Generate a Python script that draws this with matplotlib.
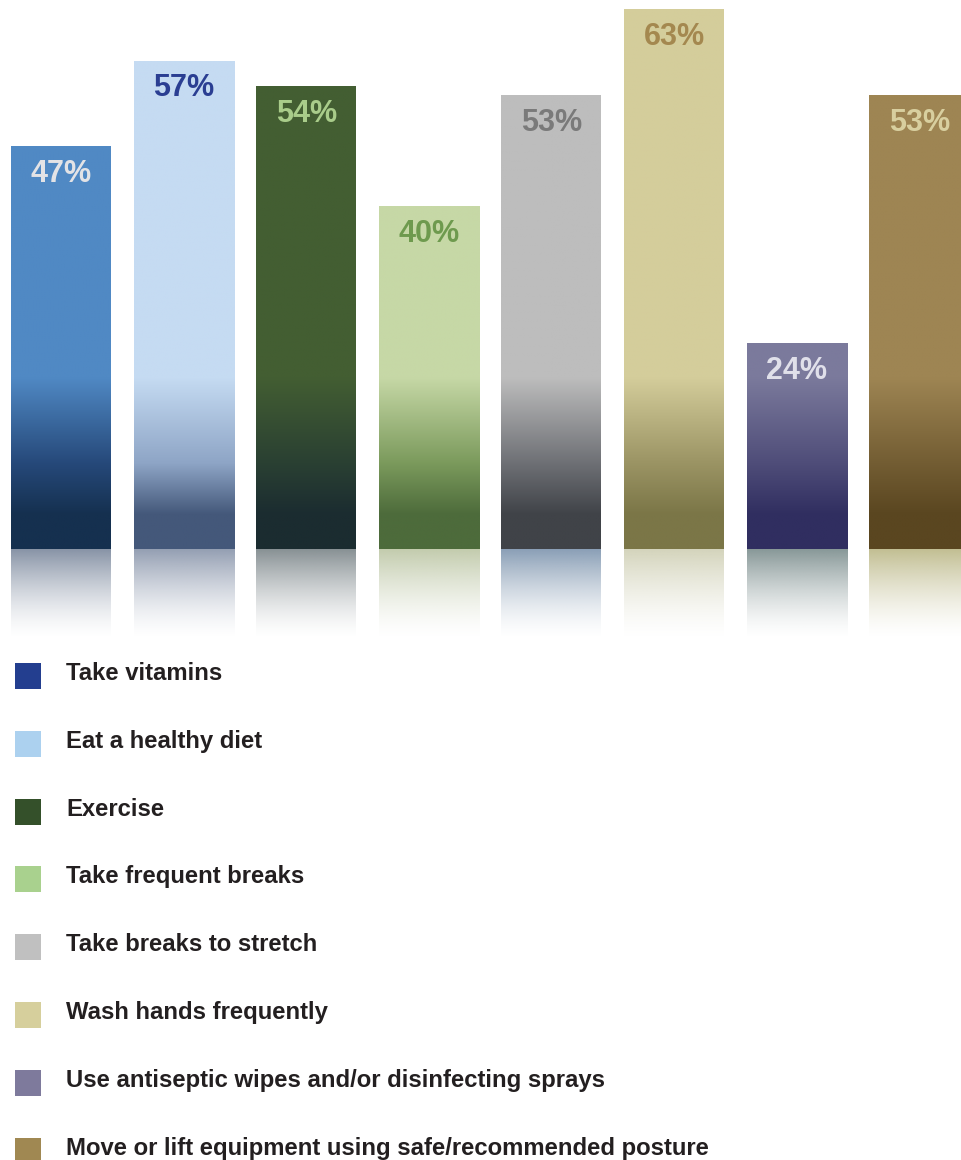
import numpy as np
import matplotlib
matplotlib.use("Agg")
import matplotlib.pyplot as plt
from matplotlib.colors import to_rgb
from matplotlib.patches import Rectangle

categories = ["Take vitamins", "Eat a healthy diet", "Exercise", "Take frequent breaks",
              "Take breaks to stretch", "Wash hands frequently",
              "Use antiseptic wipes and/or disinfecting sprays",
              "Move or lift equipment using safe/recommended posture"]
values = [47, 57, 54, 40, 53, 63, 24, 53]
labels = ["47%", "57%", "54%", "40%", "53%", "63%", "24%", "53%"]

top_colors = ["#5089c4", "#c5dbf2", "#435e32", "#c6d8a6", "#bdbdbd", "#d4cd9b", "#7b7a9c", "#9e8553"]
mid_colors = ["#26497a", "#8ea5c6", "#2a4033", "#7b9a5c", "#6e7075", "#9b9464", "#4f4d79", "#735d33"]
bot_colors = ["#15304f", "#44587a", "#1b2c30", "#4d6b3b", "#404348", "#7b7647", "#302e60", "#5a4620"]
refl_colors = ["#7a879c", "#8894aa", "#7a8488", "#bcc6a4", "#7d94ae", "#cfcfb4", "#7a8c8c", "#bbb786"]
label_colors = ["#e3e3e6", "#2a3e92", "#a9cc8a", "#6e9a4e", "#7a7a7a", "#a4884f", "#e0e0ea", "#d8cf9f"]
legend_colors = ["#233e8f", "#acd1ef", "#34502a", "#a9d18e", "#c0c0c0", "#d6cf9c", "#7e7a9c", "#a08852"]

W, H = 961, 1160
fig = plt.figure(figsize=(W / 100, H / 100), dpi=100)
fig.patch.set_facecolor("white")

# ---- bar axes ----
bar_h_px = 640
ax = fig.add_axes([0, (H - bar_h_px) / H, 1, bar_h_px / H])
ax.set_axis_off()
pitch = 122.6
px_per_unit = 8.56
x_left = -61 / pitch
x_right = (W - 61) / pitch
y_top = 549 / px_per_unit
y_bot = -(bar_h_px - 549) / px_per_unit
bw = 100 / pitch

stops_y = np.array([0.0, 4.0, 10.0, 20.0, 100.0])
refl_len = 10.5

for i, v in enumerate(values):
    c_t = np.array(to_rgb(top_colors[i]))
    c_m = np.array(to_rgb(mid_colors[i]))
    c_b = np.array(to_rgb(bot_colors[i]))
    cols = np.array([c_b, c_b, c_m, c_t, c_t])
    n = 400
    ys = np.linspace(v, 0, n)
    img = np.zeros((n, 1, 3))
    for k in range(3):
        img[:, 0, k] = np.interp(ys, stops_y, cols[:, k])
    ax.imshow(img, extent=(i - bw / 2, i + bw / 2, 0, v), aspect="auto",
              interpolation="bilinear", zorder=2)
    # reflection
    rc = np.array(to_rgb(refl_colors[i]))
    m = 200
    ry = np.linspace(0, 1, m)
    rimg = np.zeros((m, 1, 4))
    rimg[:, 0, :3] = rc
    rimg[:, 0, 3] = 0.9 * (1 - ry) ** 1.5
    ax.imshow(rimg, extent=(i - bw / 2, i + bw / 2, -refl_len, 0), aspect="auto",
              interpolation="bilinear", zorder=1)
    ax.text(i, v - 3.2, labels[i], ha="center", va="center", fontsize=22,
            fontweight="bold", color=label_colors[i], family="Liberation Sans", zorder=3)

ax.set_xlim(x_left, x_right)
ax.set_ylim(y_bot, y_top)

# ---- legend axes ----
lax = fig.add_axes([0, 0, 1, (H - bar_h_px) / H])
lax.set_axis_off()
lax.set_xlim(0, W)
lax.set_ylim(H, bar_h_px)
row0 = 663
row_step = 67.8
for i, (cat, col) in enumerate(zip(categories, legend_colors)):
    y0 = row0 + i * row_step
    lax.add_patch(Rectangle((15, y0), 26, 26, facecolor=col, edgecolor="none"))
    lax.text(66, y0 + 17, cat, ha="left", va="baseline", fontsize=17.2,
             fontweight="bold", color="#231f20", family="Liberation Sans")

fig.savefig("out.png", dpi=100, facecolor="white")
